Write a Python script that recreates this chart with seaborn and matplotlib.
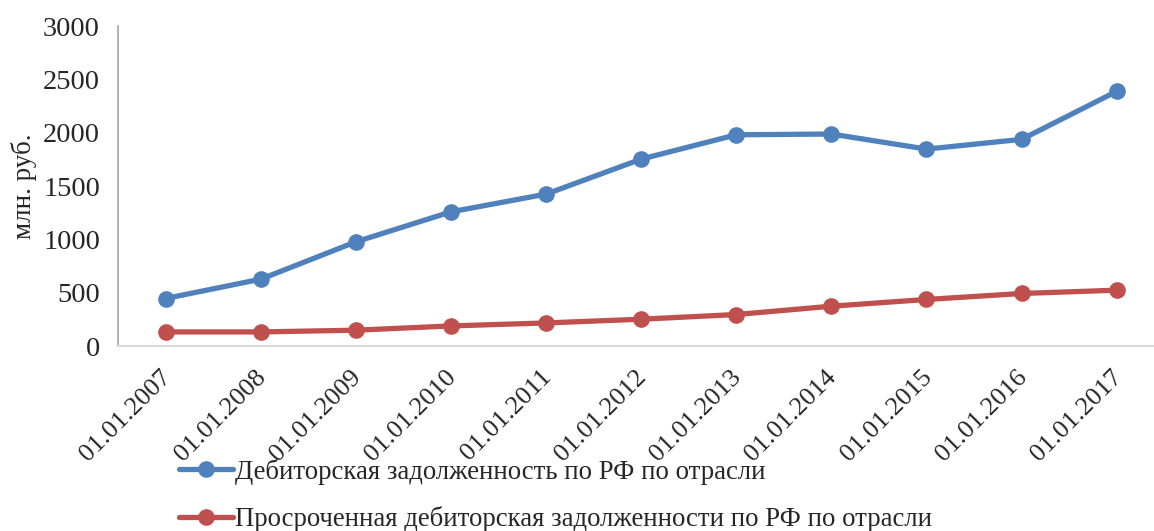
import matplotlib
matplotlib.use("Agg")
import matplotlib.pyplot as plt
import matplotlib.transforms as mtransforms
import seaborn as sns
import pandas as pd

dates = ["01.01.2007", "01.01.2008", "01.01.2009", "01.01.2010", "01.01.2011",
         "01.01.2012", "01.01.2013", "01.01.2014", "01.01.2015", "01.01.2016",
         "01.01.2017"]
receivables = [447, 628, 978, 1259, 1425, 1753, 1981, 1988, 1847, 1938, 2388]
overdue = [134, 134, 150, 190, 218, 253, 297, 375, 438, 494, 525]
series_names = ["Дебиторская задолженность по РФ по отрасли",
                "Просроченная дебиторская задолженности по РФ по отрасли"]
colors = ["#4F81BD", "#C0504D"]
y_ticks = [0, 500, 1000, 1500, 2000, 2500, 3000]
y_label = "млн. руб."

sns.set_theme(style="white")
plt.rcParams["font.family"] = ["Liberation Serif", "DejaVu Serif"]

df = pd.DataFrame({
    "pos": list(range(len(dates))) * 2,
    "value": receivables + overdue,
    "series": [series_names[0]] * len(dates) + [series_names[1]] * len(dates),
})

fig = plt.figure(figsize=(11.54, 5.31), dpi=100)
ax = fig.add_axes([0.1023, 0.348, 0.9066, 0.603])

sns.lineplot(data=df, x="pos", y="value", hue="series", palette=colors,
             marker="o", markersize=12, markeredgewidth=0, linewidth=3.8,
             ax=ax, legend=False)

ax.set_xlim(-0.5, len(dates) - 0.5)
ax.set_ylim(0, 3000)
ax.set_yticks(y_ticks)
ax.set_yticklabels([str(v) for v in y_ticks], fontsize=20.5)
ax.set_xticks(range(len(dates)))
ax.set_xticklabels(dates, fontsize=19, rotation=45, ha="right",
                   rotation_mode="anchor")
ax.tick_params(axis="both", length=0)
ax.tick_params(axis="x", pad=12)
ax.tick_params(axis="y", pad=13)
ax.set_xlabel("")
ax.set_ylabel(y_label, fontsize=19.5, labelpad=4)

# nudge the rotated date labels slightly left and down
shift = mtransforms.ScaledTranslation(-6 / 100, -3 / 100, fig.dpi_scale_trans)
for lbl in ax.get_xticklabels():
    lbl.set_transform(lbl.get_transform() + shift)

for side in ["top", "right"]:
    ax.spines[side].set_visible(False)
ax.spines["left"].set_color("#A6A6A6")
ax.spines["left"].set_linewidth(1.2)
ax.spines["bottom"].set_color("#D9D9D9")
ax.spines["bottom"].set_linewidth(1.5)

handles = [plt.Line2D([], [], color=c, linewidth=3.8, marker="o",
                      markersize=12, markeredgewidth=0) for c in colors]
fig.legend(handles, series_names, loc="lower left",
           bbox_to_anchor=(0.146, -0.022), frameon=False, fontsize=19.3,
           handlelength=2.0, handletextpad=0.1, labelspacing=0.8,
           borderaxespad=0)

fig.savefig("out.png", dpi=100)
